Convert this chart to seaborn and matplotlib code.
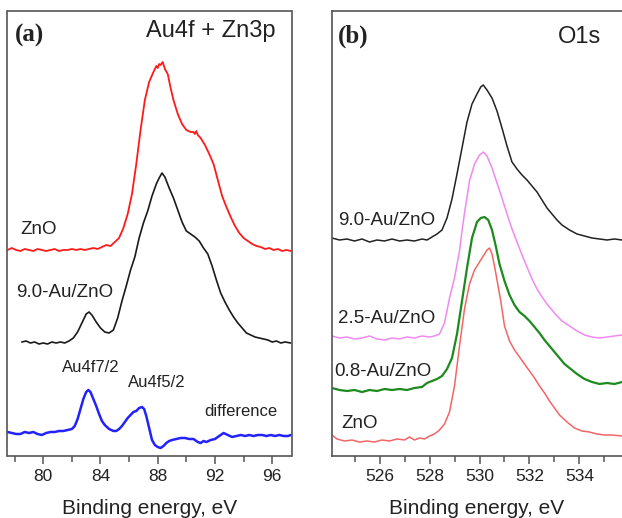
import numpy as np
import pandas as pd
import matplotlib
matplotlib.use("Agg")
import matplotlib.pyplot as plt
from matplotlib.ticker import MultipleLocator
import seaborn as sns

sns.set_theme(style='ticks')
plt.rcParams['font.family'] = ['Liberation Sans', 'DejaVu Sans']

# ---- panel (a): Au4f + Zn3p ----
zno_a_e = [77.5, 77.8, 78.1, 78.4, 78.7, 79.0, 79.3, 79.6, 79.9, 80.2, 80.5, 80.8, 81.1, 81.4,
           81.7, 82.0, 82.3, 82.6, 82.9, 83.2, 83.5, 83.8, 84.1, 84.4, 84.7, 85.0, 85.3, 85.6,
           85.9, 86.2, 86.5, 86.8, 87.1, 87.4, 87.7, 87.9, 88.0, 88.1, 88.2, 88.35, 88.5, 88.7,
           88.9, 89.1, 89.4, 89.7, 90.0, 90.3, 90.5, 90.6, 90.7, 90.8, 91.0, 91.3, 91.6, 91.9,
           92.2, 92.5, 92.8, 93.1, 93.4, 93.7, 94.0, 94.3, 94.6, 94.9, 95.2, 95.5, 95.8, 96.1,
           96.4, 96.7, 97.0, 97.3]
zno_a_i = [206, 208, 206, 205, 207, 206, 205, 207, 206, 205, 206, 207, 205, 206,
           206, 207, 206, 207, 206, 207, 208, 207, 209, 211, 210, 214, 218, 228,
           242, 262, 292, 326, 356, 374, 384, 390, 388, 392, 391, 394, 387, 382,
           368, 356, 342, 332, 326, 324, 324, 322, 325, 321, 318, 311, 302, 292,
           276, 260, 249, 239, 230, 223, 218, 215, 212, 210, 209, 207, 208, 206,
           207, 205, 206, 205]

au9_a_e = [78.5, 78.8, 79.1, 79.4, 79.7, 80.0, 80.3, 80.6, 80.9, 81.2, 81.5, 81.8, 82.1, 82.4,
           82.7, 83.0, 83.2, 83.4, 83.7, 84.0, 84.3, 84.6, 84.9, 85.2, 85.5, 85.8, 86.1, 86.4,
           86.7, 87.0, 87.3, 87.6, 87.9, 88.1, 88.3, 88.5, 88.8, 89.1, 89.4, 89.7, 90.0, 90.3,
           90.6, 90.9, 91.2, 91.5, 91.8, 92.1, 92.4, 92.7, 93.0, 93.3, 93.6, 93.9, 94.2, 94.5,
           94.8, 95.1, 95.4, 95.7, 96.0, 96.3, 96.6, 96.9, 97.3]
au9_a_i = [114, 115, 113, 114, 112, 113, 112, 114, 113, 114, 113, 115, 118, 124,
           133, 142, 144, 141, 134, 128, 124, 123, 126, 138, 155, 170, 186, 199,
           218, 233, 245, 260, 272, 278, 283, 279, 268, 258, 246, 234, 225, 222,
           219, 215, 208, 202, 190, 176, 163, 154, 146, 139, 133, 128, 123, 121,
           119, 118, 117, 116, 114, 115, 113, 114, 113]

diff_e = [77.5, 77.8, 78.1, 78.4, 78.7, 79.0, 79.3, 79.6, 79.9, 80.2, 80.5, 80.8, 81.1, 81.4,
          81.7, 82.0, 82.2, 82.4, 82.6, 82.8, 83.0, 83.15, 83.3, 83.5, 83.7, 83.9, 84.1, 84.3,
          84.6, 84.9, 85.1, 85.3, 85.5, 85.7, 85.9, 86.1, 86.3, 86.5, 86.7, 86.9, 87.05, 87.2,
          87.4, 87.6, 87.8, 88.0, 88.2, 88.4, 88.6, 88.8, 89.0, 89.3, 89.6, 89.9, 90.2, 90.5,
          90.8, 91.0, 91.2, 91.4, 91.7, 92.0, 92.3, 92.6, 92.9, 93.2, 93.5, 93.8, 94.1, 94.4,
          94.7, 95.0, 95.3, 95.6, 95.9, 96.2, 96.5, 96.8, 97.1, 97.3]
diff_i = [24, 23, 22, 22, 24, 23, 24, 22, 21, 23, 24, 24, 25, 25,
          26, 27, 30, 37, 47, 57, 64, 66, 64, 57, 50, 42, 35, 31,
          27, 25, 25, 27, 30, 34, 38, 41, 44, 45, 48, 49, 47, 40,
          28, 16, 11, 9, 8, 10, 13, 15, 16, 17, 18, 18, 17, 17,
          14, 13, 15, 14, 16, 17, 20, 23, 21, 19, 20, 21, 20, 21,
          20, 21, 21, 20, 21, 20, 21, 20, 20, 21]

# ---- panel (b): O1s ----
au9_b_e = [524.1, 524.4, 524.7, 525.0, 525.3, 525.6, 525.9, 526.2, 526.5, 526.8, 527.1, 527.4,
           527.7, 527.9, 528.1, 528.3, 528.5, 528.7, 528.9, 529.1, 529.3, 529.5, 529.7, 529.9,
           530.05, 530.15, 530.3, 530.5, 530.7, 530.9, 531.1, 531.3, 531.5, 531.7, 531.9, 532.1,
           532.3, 532.5, 532.7, 532.9, 533.1, 533.3, 533.6, 533.9, 534.2, 534.5, 534.8, 535.1,
           535.4, 535.7]
au9_b_i = [218, 216, 217, 215, 217, 214, 216, 215, 217, 215, 216, 215,
           217, 216, 219, 222, 226, 238, 257, 282, 308, 334, 352, 362,
           369, 371, 366, 358, 345, 328, 310, 294, 287, 281, 276, 270,
           264, 256, 248, 242, 236, 231, 226, 222, 220, 218, 217, 216,
           217, 216]

au25_b_e = [524.1, 524.4, 524.7, 525.0, 525.3, 525.6, 525.9, 526.2, 526.5, 526.8, 527.1, 527.4,
            527.7, 528.0, 528.2, 528.4, 528.6, 528.8, 529.0, 529.2, 529.3, 529.4, 529.6, 529.8,
            530.0, 530.15, 530.3, 530.5, 530.7, 530.9, 531.1, 531.3, 531.5, 531.7, 531.9, 532.1,
            532.3, 532.5, 532.7, 532.9, 533.1, 533.3, 533.6, 533.9, 534.2, 534.5, 534.8, 535.1,
            535.4, 535.7]
au25_b_i = [120, 118, 119, 117, 118, 120, 117, 116, 118, 117, 119, 118,
            120, 119, 120, 122, 133, 158, 178, 205, 225, 243, 275, 292,
            301, 304, 300, 288, 273, 258, 242, 227, 214, 201, 189, 177,
            167, 159, 152, 146, 140, 135, 130, 125, 121, 119, 118, 119,
            120, 121]

au08_b_e = [524.1, 524.4, 524.7, 525.0, 525.3, 525.6, 525.9, 526.2, 526.5, 526.8, 527.1, 527.4,
            527.7, 527.9, 528.1, 528.3, 528.5, 528.7, 528.9, 529.1, 529.3, 529.5, 529.7, 529.9,
            530.05, 530.2, 530.35, 530.5, 530.65, 530.8, 531.0, 531.2, 531.4, 531.6, 531.8, 532.0,
            532.2, 532.4, 532.6, 532.8, 533.0, 533.2, 533.4, 533.6, 533.9, 534.2, 534.5, 534.8,
            535.1, 535.4, 535.7]
au08_b_i = [68, 66, 65, 66, 64, 66, 65, 67, 66, 67, 66, 68,
            69, 73, 75, 77, 80, 87, 98, 122, 155, 188, 218, 234,
            238, 239, 236, 226, 210, 192, 175, 161, 151, 144, 140, 135,
            129, 123, 116, 110, 104, 98, 92, 88, 82, 77, 74, 72,
            73, 72, 74]

zno_b_e = [524.1, 524.3, 524.6, 524.9, 525.2, 525.5, 525.8, 526.1, 526.4, 526.7, 527.0, 527.2,
           527.4, 527.6, 527.8, 528.0, 528.2, 528.4, 528.6, 528.8, 529.0, 529.2, 529.4, 529.6,
           529.8, 530.0, 530.15, 530.3, 530.4, 530.5, 530.6, 530.7, 530.85, 531.0, 531.2, 531.4,
           531.6, 531.8, 532.0, 532.2, 532.4, 532.6, 532.8, 533.0, 533.2, 533.5, 533.8, 534.1,
           534.4, 534.7, 535.0, 535.3, 535.7]
zno_b_i = [21, 17, 15, 16, 14, 15, 14, 16, 15, 17, 16, 19,
           16, 18, 17, 20, 22, 26, 32, 44, 70, 110, 147, 172,
           186, 194, 200, 206, 208, 202, 190, 176, 155, 130, 115, 106,
           99, 92, 85, 78, 70, 63, 55, 48, 41, 34, 28, 25,
           24, 22, 21, 21, 20]

text_c = '#222222'
spine_c = '#555555'

fig = plt.figure(figsize=(6.22, 5.18), dpi=100)
ax1 = fig.add_axes([7.5 / 622, 62 / 518, 284 / 622, 445 / 518])
ax2 = fig.add_axes([332 / 622, 62 / 518, 290 / 622, 445 / 518])

curves_a = [(zno_a_e, zno_a_i, '#ff1a1a', 1.3),
            (au9_a_e, au9_a_i, '#1a1a1a', 1.2),
            (diff_e, diff_i, '#2222ff', 1.8)]
for e, i, c, lw in curves_a:
    sns.lineplot(x=e, y=i, ax=ax1, color=c, linewidth=lw, estimator=None, sort=False)

curves_b = [(au9_b_e, au9_b_i, '#222222', 1.1),
            (au25_b_e, au25_b_i, '#f08af0', 1.1),
            (au08_b_e, au08_b_i, '#1c8a1c', 1.6),
            (zno_b_e, zno_b_i, '#f26666', 1.1)]
for e, i, c, lw in curves_b:
    sns.lineplot(x=e, y=i, ax=ax2, color=c, linewidth=lw, estimator=None, sort=False)

ax1.set_xlim(77.5, 97.35)
ax2.set_xlim(524.1, 535.7)
for ax in (ax1, ax2):
    ax.set_ylim(0, 445)
    ax.set_yticks([])
    ax.set_ylabel('')
    for s in ax.spines.values():
        s.set_color(spine_c)
        s.set_linewidth(1.2)
    ax.tick_params(axis='x', which='major', direction='out', length=6, width=1.1,
                   color=spine_c, labelsize=12.5, labelcolor=text_c, pad=3.5)
    ax.tick_params(axis='x', which='minor', direction='out', length=4, width=1.1,
                   color=spine_c)
    ax.set_xlabel('Binding energy, eV', fontsize=15, color=text_c, labelpad=11)
ax2.spines['right'].set_visible(False)

ax1.xaxis.set_major_locator(MultipleLocator(4))
ax1.xaxis.set_minor_locator(MultipleLocator(2))
ax2.xaxis.set_major_locator(MultipleLocator(2))
ax2.xaxis.set_minor_locator(MultipleLocator(1))

bold_serif = dict(family=['Liberation Serif', 'DejaVu Serif'], fontweight='bold', fontsize=18)

ax1.text(0.026, 0.944, '(a)', transform=ax1.transAxes, va='center', color=text_c, **bold_serif)
ax1.text(0.942, 0.955, 'Au4f + Zn3p', transform=ax1.transAxes, ha='right', va='center',
         fontsize=17, color=text_c)
ax1.text(0.044, 0.51, 'ZnO', transform=ax1.transAxes, va='center', fontsize=13.5, color=text_c)
ax1.text(0.03, 0.3685, '9.0-Au/ZnO', transform=ax1.transAxes, va='center', fontsize=13.5, color=text_c)
ax1.text(0.192, 0.198, 'Au4f7/2', transform=ax1.transAxes, va='center', fontsize=12, color=text_c)
ax1.text(0.424, 0.166, 'Au4f5/2', transform=ax1.transAxes, va='center', fontsize=12, color=text_c)
ax1.text(0.692, 0.099, 'difference', transform=ax1.transAxes, va='center', fontsize=12, color=text_c)

ax2.text(0.021, 0.944, '(b)', transform=ax2.transAxes, va='center', color=text_c, **bold_serif)
ax2.text(0.779, 0.942, 'O1s', transform=ax2.transAxes, va='center', fontsize=17, color=text_c)
ax2.text(0.021, 0.530, '9.0-Au/ZnO', transform=ax2.transAxes, va='center', fontsize=13.5, color=text_c)
ax2.text(0.021, 0.310, '2.5-Au/ZnO', transform=ax2.transAxes, va='center', fontsize=13.5, color=text_c)
ax2.text(0.007, 0.189, '0.8-Au/ZnO', transform=ax2.transAxes, va='center', fontsize=13.5, color=text_c)
ax2.text(0.031, 0.074, 'ZnO', transform=ax2.transAxes, va='center', fontsize=13.5, color=text_c)

fig.savefig('out.png', dpi=100)
